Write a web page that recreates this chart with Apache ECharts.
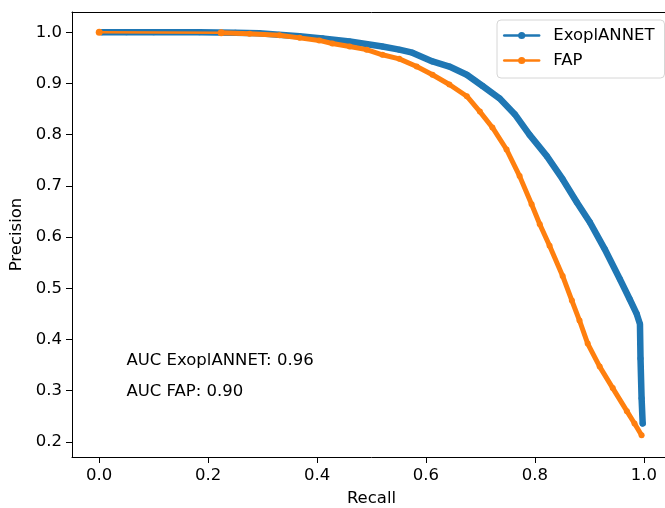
<!DOCTYPE html>
<html>
<head>
<meta charset="utf-8">
<script src="https://cdn.jsdelivr.net/npm/echarts@6/dist/echarts.min.js"></script>
<style>
html,body{margin:0;padding:0;background:#fff;overflow:hidden;width:665px;height:508px;}
#c{width:680px;height:508px;}
</style>
</head>
<body>
<div id="c"></div>
<script>
// ---- data ----
var seriesNames = ['ExoplANNET', 'FAP'];
var exoplannetRecall = [0.005, 0.05, 0.10, 0.184, 0.25, 0.294, 0.33, 0.368, 0.41, 0.46, 0.52, 0.551, 0.575, 0.612, 0.643, 0.675, 0.704, 0.735, 0.763, 0.79, 0.822, 0.851, 0.877, 0.901, 0.928, 0.956, 0.974, 0.987, 0.993, 0.994, 0.996, 0.998];
var exoplannetPrecision = [1.0, 1.0, 1.0, 1.0, 0.999, 0.998, 0.995, 0.992, 0.988, 0.982, 0.972, 0.966, 0.96, 0.943, 0.933, 0.917, 0.895, 0.871, 0.84, 0.80, 0.758, 0.713, 0.668, 0.629, 0.577, 0.518, 0.479, 0.45, 0.43, 0.363, 0.285, 0.236];
var fapRecall = [0.0, 0.224, 0.276, 0.331, 0.368, 0.404, 0.428, 0.46, 0.491, 0.52, 0.551, 0.583, 0.612, 0.643, 0.675, 0.699, 0.722, 0.748, 0.772, 0.794, 0.809, 0.827, 0.851, 0.868, 0.882, 0.897, 0.919, 0.943, 0.969, 0.983, 0.996];
var fapPrecision = [1.0, 0.999, 0.997, 0.994, 0.989, 0.984, 0.978, 0.972, 0.966, 0.956, 0.948, 0.933, 0.917, 0.898, 0.875, 0.845, 0.814, 0.771, 0.719, 0.664, 0.625, 0.583, 0.524, 0.476, 0.437, 0.392, 0.347, 0.305, 0.26, 0.236, 0.213];
var xTicks = [0.0, 0.2, 0.4, 0.6, 0.8, 1.0];
var yTicks = [0.2, 0.3, 0.4, 0.5, 0.6, 0.7, 0.8, 0.9, 1.0];
var annotationTexts = ['AUC ExoplANNET: 0.96', 'AUC FAP: 0.90'];
var annotationAnchors = [[0.05, 0.35], [0.05, 0.29]];
var xLabel = 'Recall', yLabel = 'Precision';

function zip(a, b) { return a.map(function (v, i) { return [v, b[i]]; }); }
var exoData = zip(exoplannetRecall, exoplannetPrecision);
var fapData = zip(fapRecall, fapPrecision);

var FONT = 'DejaVu Sans';
var FS = 16.5;
var chart = echarts.init(document.getElementById('c'), null, {renderer: 'canvas'});
var option = {
  animation: false,
  backgroundColor: '#fff',
  grid: {left: 72, top: 12, width: 599, height: 445, show: false, containLabel: false, outerBoundsMode: 'none'},
  xAxis: [{
    type: 'value', min: -0.05, max: 1.05, position: 'bottom',
    name: xLabel, nameLocation: 'middle', nameGap: 33,
    nameTextStyle: {fontFamily: FONT, fontSize: FS, color: '#000', verticalAlign: 'top'},
    axisLine: {show: true, onZero: false, lineStyle: {color: '#000', width: 1}},
    axisTick: {show: true, length: 6, inside: false, customValues: xTicks, lineStyle: {color: '#000', width: 1}},
    axisLabel: {customValues: xTicks, margin: 10, fontFamily: FONT, fontSize: FS, color: '#000', formatter: function (v) { return v.toFixed(1); }},
    splitLine: {show: false}
  }, {
    type: 'value', min: -0.05, max: 1.05, position: 'top',
    axisLine: {show: true, onZero: false, lineStyle: {color: '#000', width: 1}},
    axisTick: {show: false}, axisLabel: {show: false}, splitLine: {show: false}
  }],
  yAxis: {
    type: 'value', min: 0.1705, max: 1.0395,
    name: yLabel, nameLocation: 'middle', nameGap: 45, nameRotate: 90,
    nameTextStyle: {fontFamily: FONT, fontSize: FS, color: '#000'},
    axisLine: {show: true, onZero: false, lineStyle: {color: '#000', width: 1}},
    axisTick: {show: true, length: 6, inside: false, customValues: yTicks, lineStyle: {color: '#000', width: 1}},
    axisLabel: {customValues: yTicks, margin: 10, fontFamily: FONT, fontSize: FS, color: '#000', formatter: function (v) { return v.toFixed(1); }},
    splitLine: {show: false}
  },
  legend: {
    data: seriesNames,
    orient: 'vertical', left: 497, top: 20,
    padding: [7, 10, 9, 6],
    itemWidth: 35, itemHeight: 9, itemGap: 8,
    backgroundColor: 'rgba(255,255,255,0.8)', borderColor: '#d6d6d6', borderWidth: 1, borderRadius: 4,
    textStyle: {fontFamily: FONT, fontSize: FS, color: '#000', padding: [0, 0, 0, 9], lineHeight: 17},
    lineStyle: {width: 2.4},
    itemStyle: {borderWidth: 0}
  },
  series: [
    {name: seriesNames[0], type: 'line', data: exoData, color: '#1f77b4', symbol: 'circle', symbolSize: 6, showSymbol: true,
     lineStyle: {width: 6.5, color: '#1f77b4', join: 'round', cap: 'round'}, itemStyle: {color: '#1f77b4'}, z: 2},
    {name: 'FAP_start', type: 'line', data: fapData.slice(0, 2), color: '#ff7f0e', symbol: 'circle', symbolSize: 7, showSymbol: true,
     lineStyle: {width: 2.4, color: '#ff7f0e'}, itemStyle: {color: '#ff7f0e'}, z: 3},
    {name: seriesNames[1], type: 'line', data: fapData.slice(1), color: '#ff7f0e', symbol: 'circle', symbolSize: 6, showSymbol: true,
     lineStyle: {width: 5, color: '#ff7f0e', join: 'round', cap: 'round'}, itemStyle: {color: '#ff7f0e'}, z: 3}
  ]
};
chart.setOption(option);
var g = annotationTexts.map(function (t, i) {
  var p = chart.convertToPixel({gridIndex: 0}, annotationAnchors[i]);
  return {type: 'text', left: p[0], top: p[1] - 13, z: 10,
    style: {text: t, fontFamily: FONT, fontSize: FS, fill: '#000'}};
});
chart.setOption({graphic: g});
</script>
</body>
</html>
